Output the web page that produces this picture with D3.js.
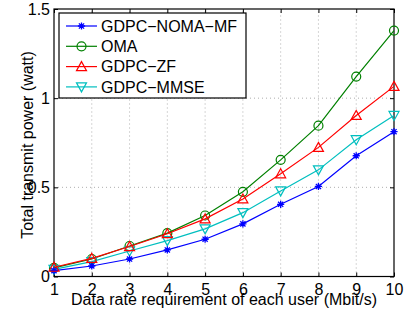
<!DOCTYPE html>
<html>
<head>
<meta charset="utf-8">
<script src="https://cdn.jsdelivr.net/npm/d3@7"></script>
<style>
  body { margin: 0; background: #fff; }
  svg { display: block; font-family: "Liberation Sans", Arial, sans-serif; }
</style>
</head>
<body>
<svg width="408" height="314"></svg>
<script>
var rates = [1, 2, 3, 4, 5, 6, 7, 8, 9, 10];
var nomaMF = [0.033, 0.059, 0.098, 0.149, 0.209, 0.295, 0.405, 0.505, 0.677, 0.812];
var oma = [0.048, 0.098, 0.171, 0.243, 0.342, 0.475, 0.654, 0.846, 1.121, 1.379];
var zf = [0.052, 0.102, 0.168, 0.240, 0.323, 0.435, 0.576, 0.724, 0.903, 1.066];
var mmse = [0.040, 0.083, 0.143, 0.201, 0.267, 0.358, 0.480, 0.598, 0.767, 0.903];
var yTicks = [0, 0.5, 1, 1.5];

var series = [
  { name: "GDPC\u2212NOMA\u2212MF", values: nomaMF, color: "#0000ff", marker: "star" },
  { name: "OMA", values: oma, color: "#008000", marker: "circle" },
  { name: "GDPC\u2212ZF", values: zf, color: "#ff0000", marker: "up" },
  { name: "GDPC\u2212MMSE", values: mmse, color: "#00bfbf", marker: "down" }
];

var svg = d3.select("svg");
var margin = { left: 54, right: 14, top: 9, bottom: 37.5 };
var width = +svg.attr("width"), height = +svg.attr("height");
var fs = 16;

var x = d3.scaleLinear().domain([1, 10]).range([margin.left, width - margin.right]);
var y = d3.scaleLinear().domain([0, 1.5]).range([height - margin.bottom, margin.top]);

// grid
var grid = svg.append("g").attr("stroke", "#999").attr("stroke-dasharray", "1,3").attr("stroke-width", 0.8);
grid.selectAll("line.gx").data(rates.slice(1, -1)).enter().append("line")
  .attr("x1", d => x(d)).attr("x2", d => x(d))
  .attr("y1", y(0)).attr("y2", y(1.5));
grid.selectAll("line.gy").data(yTicks.slice(1, -1)).enter().append("line")
  .attr("y1", d => y(d)).attr("y2", d => y(d))
  .attr("x1", x(1)).attr("x2", x(10));

// axes (ticks inward)
var tickLen = 4;
svg.append("g").attr("transform", "translate(0," + y(0) + ")")
  .call(d3.axisBottom(x).tickValues(rates).tickSize(-tickLen).tickPadding(7).tickFormat(d3.format("d")))
  .call(g => g.select(".domain").remove());
svg.append("g").attr("transform", "translate(0," + y(1.5) + ")")
  .call(d3.axisTop(x).tickValues(rates).tickSize(-tickLen).tickFormat(""))
  .call(g => g.select(".domain").remove());
svg.append("g").attr("transform", "translate(" + x(1) + ",0)")
  .call(d3.axisLeft(y).tickValues(yTicks).tickSize(-tickLen).tickPadding(4).tickFormat(d3.format("")))
  .call(g => g.select(".domain").remove());
svg.append("g").attr("transform", "translate(" + x(10) + ",0)")
  .call(d3.axisRight(y).tickValues(yTicks).tickSize(-tickLen).tickFormat(""))
  .call(g => g.select(".domain").remove());

svg.selectAll(".tick text").attr("font-size", fs).attr("fill", "#000")
  .attr("font-family", "Liberation Sans, Arial, sans-serif");
svg.selectAll(".tick line").attr("stroke", "#000");

svg.append("rect")
  .attr("x", x(1)).attr("y", y(1.5))
  .attr("width", x(10) - x(1)).attr("height", y(0) - y(1.5))
  .attr("fill", "none").attr("stroke", "#000").attr("stroke-width", 1.2);

// markers
function drawMarker(g, type, color, cx, cy) {
  var r = 4.5;
  if (type === "circle") {
    g.append("circle").attr("cx", cx).attr("cy", cy).attr("r", r)
      .attr("fill", "none").attr("stroke", color).attr("stroke-width", 1.2);
  } else if (type === "up") {
    g.append("path").attr("d", "M" + cx + "," + (cy - r - 0.5) + "L" + (cx + r + 0.5) + "," + (cy + r - 0.5) + "L" + (cx - r - 0.5) + "," + (cy + r - 0.5) + "Z")
      .attr("fill", "none").attr("stroke", color).attr("stroke-width", 1.2);
  } else if (type === "down") {
    g.append("path").attr("d", "M" + cx + "," + (cy + r + 0.5) + "L" + (cx + r + 0.5) + "," + (cy - r + 0.5) + "L" + (cx - r - 0.5) + "," + (cy - r + 0.5) + "Z")
      .attr("fill", "none").attr("stroke", color).attr("stroke-width", 1.2);
  } else {
    var s = 3.6, d = s * 0.72;
    g.append("path")
      .attr("d", "M" + (cx - s) + "," + cy + "H" + (cx + s) +
        "M" + cx + "," + (cy - s) + "V" + (cy + s) +
        "M" + (cx - d) + "," + (cy - d) + "L" + (cx + d) + "," + (cy + d) +
        "M" + (cx - d) + "," + (cy + d) + "L" + (cx + d) + "," + (cy - d))
      .attr("stroke", color).attr("stroke-width", 1.3);
  }
}

var line = d3.line().x((d, i) => x(rates[i])).y(d => y(d));

// draw order keeps red above green at the low end
[1, 3, 0, 2].forEach(function (k) {
  var s = series[k];
  var g = svg.append("g");
  g.append("path").datum(s.values).attr("d", line)
    .attr("fill", "none").attr("stroke", s.color).attr("stroke-width", 1.2);
  s.values.forEach(function (v, i) {
    drawMarker(g, s.marker, s.color, x(rates[i]), y(v));
  });
});

// legend
var lg = svg.append("g");
lg.append("rect").attr("x", 59).attr("y", 13).attr("width", 187).attr("height", 85)
  .attr("fill", "#fff").attr("stroke", "#000").attr("stroke-width", 1.2);
series.forEach(function (s, i) {
  var ly = 26 + i * 20.3;
  lg.append("line").attr("x1", 66).attr("x2", 97).attr("y1", ly).attr("y2", ly)
    .attr("stroke", s.color).attr("stroke-width", 1.2);
  drawMarker(lg, s.marker, s.color, 81.5, ly);
  lg.append("text").attr("x", 101).attr("y", ly + 5.7).attr("font-size", fs).text(s.name);
});

// axis titles
svg.append("text").attr("x", (x(1) + x(10)) / 2).attr("y", 305)
  .attr("text-anchor", "middle").attr("font-size", fs)
  .text("Data rate requirement of each user (Mbit/s)");
svg.append("text").attr("transform", "translate(33,145) rotate(-90)")
  .attr("text-anchor", "middle").attr("font-size", fs)
  .text("Total transmit power (watt)");
</script>
</body>
</html>
